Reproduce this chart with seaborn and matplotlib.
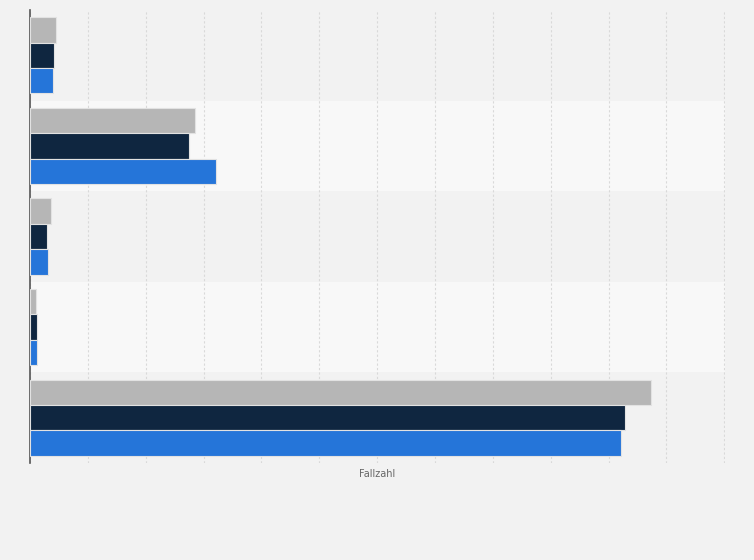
import matplotlib
matplotlib.use("Agg")
import matplotlib.pyplot as plt
import seaborn as sns
import pandas as pd

categories = ["Kategorie 1", "Kategorie 2", "Kategorie 3", "Kategorie 4", "Kategorie 5"]
series = ["Serie A", "Serie B", "Serie C"]
values_a = [22.5, 142.5, 18.1, 5.2, 537.0]
values_b = [20.7, 137.3, 14.7, 6.0, 514.0]
values_c = [19.9, 160.6, 15.5, 6.0, 511.0]
colors = ["#b6b6b6", "#0f2640", "#2575d9"]
x_ticks = list(range(0, 601, 50))

rows = []
for s, vals in zip(series, [values_a, values_b, values_c]):
    for c, v in zip(categories, vals):
        rows.append({"Kategorie": c, "Serie": s, "Fallzahl": v})
df = pd.DataFrame(rows)

sns.set_theme(style="white")
plt.rcParams['font.family'] = ['DejaVu Sans']

fig = plt.figure(figsize=(7.54, 5.6), dpi=100, facecolor="#f2f2f2")
ax = fig.add_axes([30/754, 1-463/560, (725-30)/754, (463-10)/560])
ax.set_facecolor("#f2f2f2")

# alternating row bands
for i in range(len(categories)):
    col = "#f2f2f2" if i % 2 == 0 else "#f8f8f8"
    ax.axhspan(i - 0.5, i + 0.5, color=col, zorder=0, lw=0)

sns.barplot(data=df, y="Kategorie", x="Fallzahl", hue="Serie", order=categories,
            hue_order=series, palette=colors, saturation=1, orient="h", width=0.84,
            edgecolor="#e2e2e2", linewidth=0.8, ax=ax, legend=False, zorder=3)

ax.set_xlim(0, 600.6)
ax.set_ylim(len(categories) - 0.5, -0.5)
ax.set_xticks(x_ticks)
ax.set_xticklabels([])
ax.set_yticks(range(len(categories)))
ax.set_yticklabels([])
ax.tick_params(axis="both", length=0)
ax.xaxis.grid(True, color="#d9d9d9", linestyle=(0, (2, 2)), linewidth=0.8, zorder=1)
ax.set_axisbelow(True)
for s in ["top", "right", "bottom"]:
    ax.spines[s].set_visible(False)
ax.spines["left"].set_color("#555555")
ax.spines["left"].set_linewidth(1.2)
ax.set_ylabel("")
ax.set_xlabel("Fallzahl", fontsize=7, color="#666666", labelpad=1)

fig.savefig("out.png", dpi=100, facecolor=fig.get_facecolor())
